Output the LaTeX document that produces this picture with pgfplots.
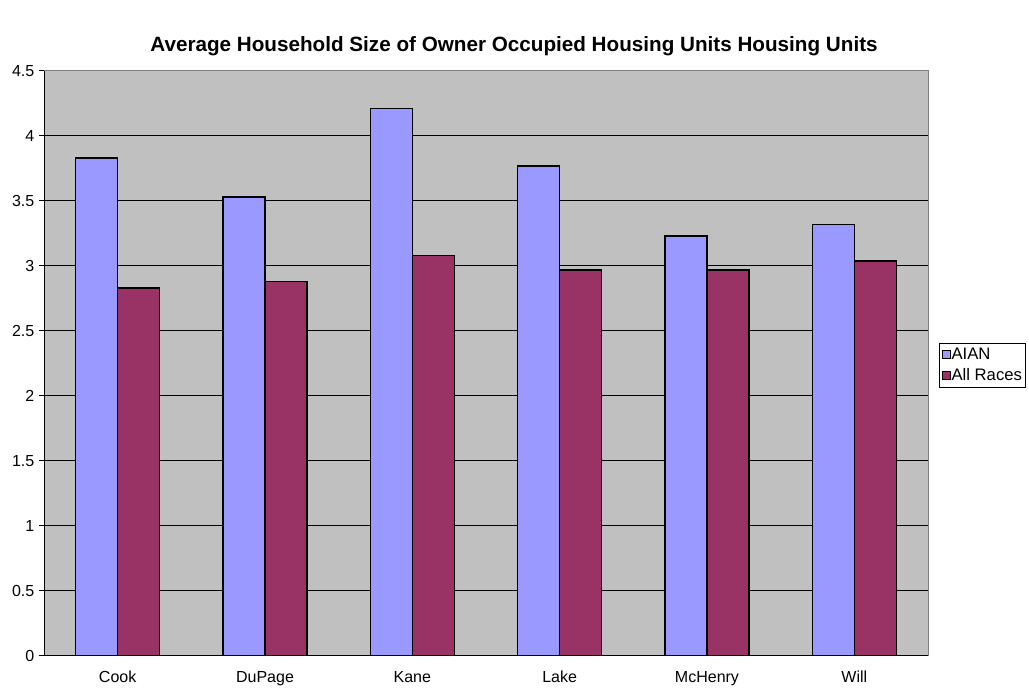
\documentclass[border=0pt]{standalone}
\usepackage{pgfplots}
\pgfplotsset{compat=1.18}
\usepackage{fontspec}
\setmainfont{Liberation Sans}
\definecolor{aian}{HTML}{9999FF}
\definecolor{allr}{HTML}{993366}
\definecolor{bg}{HTML}{C0C0C0}
\definecolor{frame}{HTML}{808080}
\begin{document}
\begin{tikzpicture}
\useasboundingbox (0,0) rectangle (771.75pt,519pt);
\node[font=\bfseries\fontsize{15.5pt}{18pt}\selectfont] at (385.5pt,484.5pt) {Average Household Size of Owner Occupied Housing Units Housing Units};
\begin{axis}[
  at={(33pt,27pt)}, anchor=south west,
  scale only axis, width=663pt, height=438.75pt,
  ybar=0pt, bar width=0.285,
  xmin=-0.5, xmax=5.5, ymin=0, ymax=4.5,
  ytick={0,0.5,1,1.5,2,2.5,3,3.5,4,4.5},
  yticklabels={0,0.5,1,1.5,2,2.5,3,3.5,4,4.5},
  xtick={0,1,2,3,4,5},
  xticklabels={Cook,DuPage,Kane,Lake,McHenry,Will},
  xtick pos=bottom, ytick pos=left,
  x tick style={draw=none},
  extra x ticks={-0.5,0.5,1.5,2.5,3.5,4.5,5.5},
  extra x tick labels={},
  extra x tick style={xtick pos=bottom, major tick length=3.75pt, tick style={draw=black, line width=0.75pt}},
  tick align=outside,
  y tick style={draw=black, line width=0.75pt},
  major tick length=3.75pt,
  ymajorgrids, grid style={draw=black, line width=0.75pt},
  axis background/.style={fill=bg},
  axis line style={draw=frame, line width=0.75pt},
  tick label style={font=\fontsize{12pt}{14pt}\selectfont},
  xticklabel style={yshift=-4pt},
  legend style={at={(1.0124,0.497)}, anchor=west, draw=black, fill=white,
    font=\fontsize{12.5pt}{14pt}\selectfont, inner sep=2pt, row sep=1pt,
    nodes={inner xsep=0.5pt}},
  legend cell align=left,
  legend image code/.code={\draw[#1,draw=black,line width=0.75pt] (0pt,-3pt) rectangle (6pt,3pt);},
]
\addplot[fill=aian, draw=black, line width=1.2pt] coordinates {(0,3.83) (1,3.53) (2,4.21) (3,3.77) (4,3.23) (5,3.32)};
\addplot[fill=allr, draw=black, line width=1.2pt] coordinates {(0,2.83) (1,2.88) (2,3.08) (3,2.97) (4,2.97) (5,3.04)};
\legend{AIAN,All Races}
\draw[black, line width=0.75pt] (rel axis cs:0,1) -- (rel axis cs:0,0) -- (rel axis cs:1,0);
\end{axis}
\end{tikzpicture}
\end{document}
